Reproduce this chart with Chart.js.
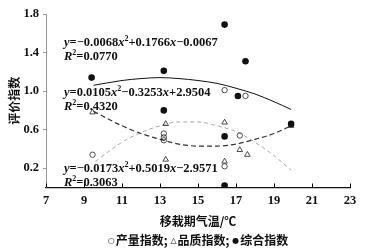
<!DOCTYPE html>
<html>
<head>
<meta charset="utf-8">
<script src="https://cdn.jsdelivr.net/npm/chart.js@4.4.1/dist/chart.umd.min.js"></script>
<style>
  html, body { margin: 0; padding: 0; background: #fff; }
  #wrap { width: 370px; height: 250px; }
</style>
</head>
<body>
<div id="wrap"><canvas id="chart" width="370" height="250"></canvas></div>
<script>
// scatter values
const tempYield = [9.45, 13.2, 13.2, 13.2, 16.4, 16.4, 17.2, 17.5];
const yieldIdx = [0.34, 0.56, 0.52, 0.49, 1.01, 0.22, 0.54, 0.95];
const tempQuality = [9.45, 13.3, 13.3, 16.4, 16.4, 17.2, 17.6, 19.9];
const qualityIdx = [0.78, 0.66, 0.29, 0.675, 0.27, 0.39, 0.34, 0.64];
const tempComp = [9.4, 13.2, 13.2, 16.4, 16.4, 16.4, 17.1, 17.5, 19.9];
const compIdx = [1.14, 1.21, 0.80, 1.69, 0.53, 0.02, 0.95, 1.31, 0.66];

// trend lines
const fitX = [9.5, 11, 12, 13, 14, 15, 16, 17, 18, 19, 19.9];
const fitComp = [1.06, 1.11, 1.13, 1.14, 1.13, 1.11, 1.08, 1.03, 0.97, 0.89, 0.81];
const fitQuality = [0.79, 0.64, 0.56, 0.50, 0.45, 0.43, 0.43, 0.45, 0.50, 0.56, 0.64];
const fitYieldX = [9.6, 11, 12, 13, 14, 15, 16, 17, 18, 19, 19.9];
const fitYield = [0.27, 0.47, 0.57, 0.64, 0.68, 0.68, 0.64, 0.58, 0.47, 0.33, 0.18];

const xTicks = [7, 9, 11, 13, 15, 17, 19, 21, 23];
const yTicks = [0.2, 0.6, 1.0, 1.4, 1.8];

const equations = [
  ["y=−0.0068x²+0.1766x−0.0067", "R²=0.0770"],
  ["y=0.0105x²−0.3253x+2.9504", "R²=0.4320"],
  ["y=−0.0173x²+0.5019x−2.9571", "R²=0.3063"]
];
const eqPos = [[64, 46, 60], [64, 96, 110], [64, 172, 186]];

const yTitle = "评价指数";
const xTitle = "移栽期气温/℃";
const legendParts = [["○", "产量指数; "], ["△", "品质指数; "], ["●", "综合指数"]];

const pts = (xs, ys) => xs.map((x, i) => ({ x: x, y: ys[i] }));

const cjkFont = "bold 12px 'Noto Sans CJK SC'";
const symFont = "8px 'DejaVu Sans'";

function drawEq(ctx, str, x, y) {
  let cx = x;
  for (const ch of str) {
    if (ch === "²") {
      ctx.font = "bold 8px 'Liberation Serif'";
      ctx.fillText("2", cx, y - 5);
      cx += ctx.measureText("2").width;
      continue;
    }
    const it = (ch === "x" || ch === "y" || ch === "R");
    ctx.font = (it ? "italic " : "") + "bold 12.5px 'Liberation Serif'";
    ctx.fillText(ch, cx, y);
    cx += ctx.measureText(ch).width;
  }
}

function drawLegend(ctx, cx, y) {
  let total = 0;
  legendParts.forEach((p) => {
    ctx.font = symFont;
    total += ctx.measureText(p[0]).width + 1;
    ctx.font = cjkFont;
    total += ctx.measureText(p[1]).width;
  });
  let x = cx - total / 2;
  ctx.textAlign = "left";
  legendParts.forEach((p) => {
    ctx.font = symFont;
    ctx.fillText(p[0], x, y + 0.5);
    x += ctx.measureText(p[0]).width + 1;
    ctx.font = cjkFont;
    ctx.fillText(p[1], x, y);
    x += ctx.measureText(p[1]).width;
  });
}

const extras = {
  id: "extras",
  afterDraw(chart) {
    const ctx = chart.ctx;
    const xs = chart.scales.x;
    const area = chart.chartArea;
    ctx.save();
    // inward ticks on the x axis
    ctx.strokeStyle = "#000";
    ctx.lineWidth = 1;
    xTicks.forEach((v) => {
      const px = Math.round(xs.getPixelForValue(v)) + 0.5;
      ctx.beginPath();
      ctx.moveTo(px, area.bottom);
      ctx.lineTo(px, area.bottom - 4);
      ctx.stroke();
    });
    // equations
    ctx.fillStyle = "#111";
    ctx.textAlign = "left";
    ctx.textBaseline = "alphabetic";
    equations.forEach((eq, i) => {
      drawEq(ctx, eq[0], eqPos[i][0], eqPos[i][1]);
      drawEq(ctx, eq[1], eqPos[i][0], eqPos[i][2]);
    });
    // titles and legend
    const mid = (area.left + area.right) / 2;
    ctx.textBaseline = "middle";
    drawLegend(ctx, mid, 240);
    ctx.font = cjkFont;
    ctx.textAlign = "center";
    ctx.fillText(xTitle, mid, 221);
    ctx.translate(14, (area.top + area.bottom) / 2);
    ctx.rotate(-Math.PI / 2);
    ctx.fillText(yTitle, 0, 0);
    ctx.restore();
  }
};

const ctx = document.getElementById("chart").getContext("2d");
new Chart(ctx, {
  type: "scatter",
  data: {
    datasets: [
      {
        label: "综合指数",
        data: pts(tempComp, compIdx),
        pointStyle: "circle",
        pointRadius: 3.3,
        backgroundColor: "#111",
        borderColor: "#111",
        borderWidth: 0
      },
      {
        label: "产量指数",
        data: pts(tempYield, yieldIdx),
        pointStyle: "circle",
        pointRadius: 2.7,
        backgroundColor: "rgba(255,255,255,0)",
        borderColor: "#222",
        borderWidth: 0.8
      },
      {
        label: "品质指数",
        data: pts(tempQuality, qualityIdx),
        pointStyle: "triangle",
        pointRadius: 3.2,
        backgroundColor: "rgba(255,255,255,0)",
        borderColor: "#222",
        borderWidth: 0.8
      },
      {
        data: pts(fitX, fitComp),
        showLine: true,
        pointRadius: 0,
        borderColor: "#111",
        borderWidth: 1,
        cubicInterpolationMode: "monotone"
      },
      {
        data: pts(fitX, fitQuality),
        showLine: true,
        pointRadius: 0,
        borderColor: "#333",
        borderWidth: 1.2,
        borderDash: [5, 3],
        cubicInterpolationMode: "monotone"
      },
      {
        data: pts(fitYieldX, fitYield),
        showLine: true,
        pointRadius: 0,
        borderColor: "#aaa",
        borderWidth: 1,
        borderDash: [4, 3],
        cubicInterpolationMode: "monotone"
      }
    ]
  },
  options: {
    responsive: false,
    animation: false,
    devicePixelRatio: 1,
    layout: { padding: { left: 0, right: 20, top: 14, bottom: 0 } },
    plugins: { legend: { display: false }, tooltip: { enabled: false } },
    scales: {
      x: {
        type: "linear",
        min: 7,
        max: 23,
        afterFit: (s) => { s.height = 62.5; },
        afterBuildTicks: (s) => { s.ticks = xTicks.map((v) => ({ value: v })); },
        grid: { display: true, drawOnChartArea: false, drawTicks: false },
        border: { display: true, color: "#111", width: 1.2 },
        ticks: {
          padding: 6,
          color: "#111",
          font: { family: "Liberation Serif", size: 12.5, weight: "bold" }
        }
      },
      y: {
        min: 0,
        max: 1.8,
        afterFit: (s) => { s.width = 46; },
        afterBuildTicks: (s) => { s.ticks = yTicks.map((v) => ({ value: v })); },
        grid: { display: true, drawOnChartArea: false, drawTicks: true, tickLength: 3, color: "#999" },
        border: { display: true, color: "#999", width: 1 },
        ticks: {
          padding: 4,
          color: "#111",
          callback: (v) => v.toFixed(1),
          font: { family: "Liberation Serif", size: 12.5, weight: "bold" }
        }
      }
    }
  },
  plugins: [extras]
});
</script>
</body>
</html>
